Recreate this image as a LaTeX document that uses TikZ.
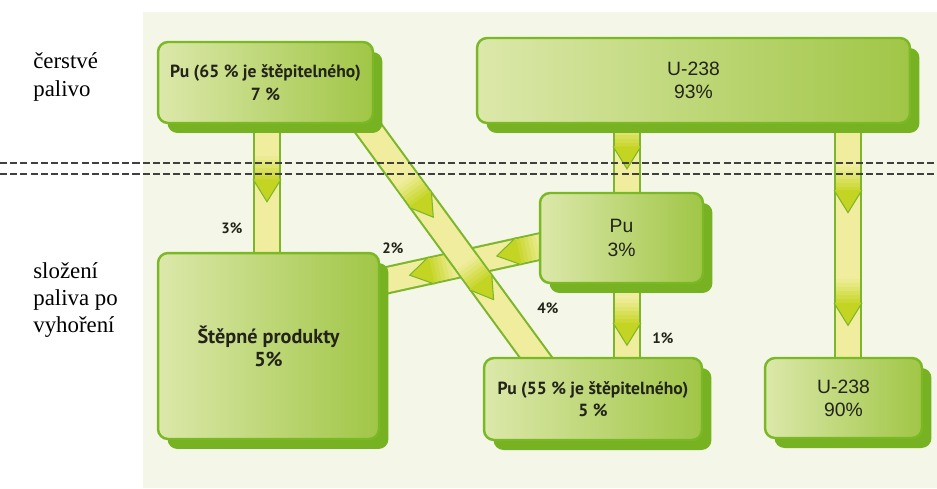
\documentclass[tikz,border=0pt]{standalone}
\usepackage{fontspec}
\setmainfont{Liberation Serif}
\newfontfamily\boxsans{PT Sans}
\newfontfamily\plainsans{Liberation Sans}
\usetikzlibrary{calc, shadows, decorations.markings}

\definecolor{panel}{RGB}{244,247,231}
\definecolor{boxlight}{RGB}{220,232,170}
\definecolor{boxdark}{RGB}{160,198,70}
\definecolor{boxline}{RGB}{122,184,38}
\definecolor{boxshadow}{RGB}{118,178,34}
\definecolor{bandfill}{RGB}{240,238,158}
\definecolor{bandline}{RGB}{125,182,44}
\definecolor{chev}{RGB}{196,212,34}
\definecolor{ink}{RGB}{35,35,25}

\pgfdeclarelayer{bg}
\pgfsetlayers{bg,main}

% arrow head with a darker shaft, drawn along the band
\newcommand\chevronmark{%
  \foreach \k/\c in {0/10,1/25,2/40,3/55,4/70,5/85}
    \fill[chev!\c!bandfill] ({-46+\k*4},-12) rectangle ({-41.5+\k*4},12);
  \fill[chev] (-22.5,-14) -- (0,0) -- (-22.5,14) -- cycle;
  \draw[bandline, line width=0.6pt] (-22.5,-14) -- (0,0) -- (-22.5,14);
}

\tikzset{
  box/.style={draw=boxline, line width=1.4pt, rounded corners=0.2cm,
    left color=boxlight, right color=boxdark, text=ink, align=center,
    inner sep=0pt,
    general shadow={fill=boxshadow, shadow xshift=0.19cm, shadow yshift=-0.2cm}},
  band/.style={draw=bandline, line width=1.2pt, double=bandfill,
    double distance=0.48cm},
  chevron/.style={postaction={decorate, decoration={markings,
    mark=at position #1 with {\chevronmark}}}},
  pct/.style={font=\boxsans\bfseries\fontsize{8.5}{10}\selectfont, text=ink},
  side/.style={font=\rmfamily\fontsize{13}{15.4}\selectfont, align=left,
    anchor=west, inner sep=0pt},
  divider/.style={black!75, line width=0.85pt, dash pattern=on 4pt off 1.8pt}
}

\begin{document}
\begin{tikzpicture}[x=0.02cm, y=-0.02cm]
  \useasboundingbox (0,0) rectangle (937,488);

  % side labels
  \node[side] (fresh) at (33,77) {čerstvé\\palivo};
  \node[side] (spent) at (33,300) {složení\\paliva po\\vyhoření};

  % boxes
  \coordinate (xA) at (267,0);
  \coordinate (xD) at (627,0);
  \coordinate (xF) at (848,0);
  \node[box, minimum width=4.3cm, minimum height=1.62cm,
    font=\boxsans\bfseries\fontsize{10}{13}\selectfont]
    (pu65) at (265.5,82.5) {Pu (65 \% je štěpitelného)\\7 \%};
  \node[box, minimum width=8.66cm, minimum height=1.7cm,
    font=\plainsans\fontsize{11}{13}\selectfont]
    (u238a) at (693.5,80.5) {U-238\\93\%};
  \node[box, minimum width=3.26cm, minimum height=1.8cm,
    font=\plainsans\fontsize{11}{13.6}\selectfont]
    (pu3) at (621.5,238) {Pu\\3\%};
  \node[box, minimum width=4.42cm, minimum height=3.72cm,
    font=\boxsans\bfseries\fontsize{11.5}{13}\selectfont]
    (fp) at (268.5,346) {Štěpné produkty\\5\%};
  \node[box, minimum width=4.36cm, minimum height=1.64cm,
    font=\boxsans\bfseries\fontsize{10}{12.5}\selectfont]
    (pu55) at (593,399) {Pu (55 \% je štěpitelného)\\5 \%};
  \node[box, minimum width=3.14cm, minimum height=1.6cm,
    font=\plainsans\fontsize{11}{13}\selectfont]
    (u238b) at (843.5,398) {U-238\\90\%};

  % flow percentages
  \node[pct] (p3) at (232,228) {3\%};
  \node[pct] (p2) at (393,248) {2\%};
  \node[pct] (p4) at (548,308) {4\%};
  \node[pct] (p1) at (663,338) {1\%};

  % flows, drawn under the boxes
  \begin{pgfonlayer}{bg}
    \fill[panel] (143,12) rectangle (937,488);
    \draw[band, chevron=0.29, chevron=0.795]
      ($(pu3.west)+(8,7)$) -- ($(fp.east)+(-6,-63)$);
    \draw[band, chevron=0.41, chevron=0.735]
      ($(pu65.south east)+(-17,-11)$) -- ($(pu55.north west)+(60,10)$);
    \draw[band, chevron=0.6]
      ($(pu65.south -| xA)+(0,-5)$) -- ($(fp.north -| xA)+(0,5)$);
    \draw[band, chevron=0.64]
      ($(u238a.south -| xD)+(0,-5)$) -- ($(pu3.north -| xD)+(0,5)$);
    \draw[band, chevron=0.8]
      ($(pu3.south -| xD)+(0,-5)$) -- ($(pu55.north -| xD)+(0,5)$);
    \draw[band, chevron=0.385, chevron=0.85]
      ($(u238a.south -| xF)+(0,-5)$) -- ($(u238b.north -| xF)+(0,5)$);
  \end{pgfonlayer}

  % border between fresh and spent fuel
  \draw[divider] (0,163) -- (937,163);
  \draw[divider] (0,174) -- (937,174);
\end{tikzpicture}
\end{document}
